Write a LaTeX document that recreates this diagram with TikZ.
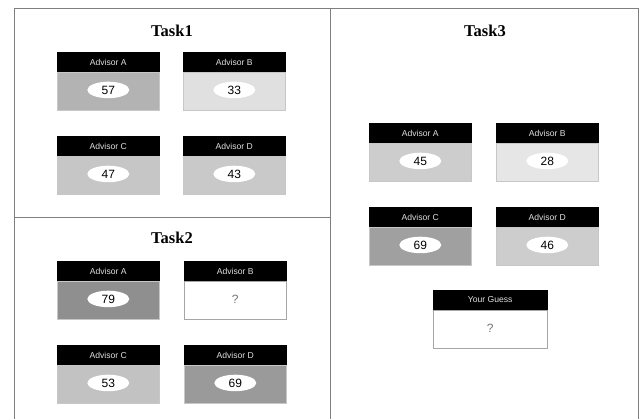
\documentclass[tikz,border=0pt]{standalone}
\usepackage{fontspec}
\setmainfont{Liberation Serif}
\setsansfont{Liberation Sans}
\usetikzlibrary{shapes.geometric}
\definecolor{gA}{HTML}{B3B3B3}
\definecolor{gB}{HTML}{E0E0E0}
\definecolor{gC}{HTML}{C6C6C6}
\definecolor{gD}{HTML}{C9C9C9}
\definecolor{hA}{HTML}{8F8F8F}
\definecolor{hC}{HTML}{C2C2C2}
\definecolor{hD}{HTML}{9A9A9A}
\definecolor{kA}{HTML}{CDCDCD}
\definecolor{kB}{HTML}{E6E6E6}
\definecolor{kC}{HTML}{A0A0A0}
\definecolor{kD}{HTML}{CDCDCD}
\definecolor{framecol}{HTML}{7F7F7F}
\tikzset{
 frame/.style={draw=framecol, line width=1pt},
 hdr/.style={fill=black, draw=black, text=white!88!black, font=\sffamily\fontsize{8.6}{9}\selectfont, minimum width=102pt, minimum height=19.5pt, anchor=north west, inner sep=0pt},
 body/.style={draw=black!22, line width=0.6pt, minimum width=102pt, minimum height=38.5pt, anchor=north west, inner sep=0pt},
 val/.style={ellipse, fill=white, minimum width=42pt, minimum height=16.5pt, inner sep=0pt, font=\sffamily\fontsize{12}{12}\selectfont},
 qmark/.style={font=\sffamily\fontsize{12}{12}\selectfont, text=black!55},
 title/.style={font=\bfseries\fontsize{16.5}{17}\selectfont}
}
\newcommand\advbox[6]{%
  \node[hdr] (#1h) at (#2,#3) {#4};
  \node[body, fill=#5] (#1b) at (#1h.south west) {};
  \node[val] (#1v) at ([yshift=1.5pt]#1b.center) {#6};
}
\newcommand\qbox[4]{%
  \node[hdr] (#1h) at (#2,#3) {#4};
  \node[body, fill=white, draw=black!35] (#1b) at (#1h.south west) {};
  \node[qmark] (#1v) at ([yshift=1.5pt]#1b.center) {?};
}
\begin{document}
\begin{tikzpicture}[x=1pt,y=-1pt]
\useasboundingbox (0,0) rectangle (639,419);
\fill[white] (0,0) rectangle (639,419);
% frame
\draw[frame] (14,419) -- (14,9) -- (638,9) -- (638,419);
\draw[frame] (330,9) -- (330,419);
\draw[frame] (14,217.5) -- (330,217.5);
% Task1
\node[title] (t1) at (172,31) {Task1};
\advbox{oa}{57}{52}{Advisor A}{gA}{57}
\advbox{ob}{183}{52}{Advisor B}{gB}{33}
\advbox{oc}{57}{136}{Advisor C}{gC}{47}
\advbox{od}{183}{136}{Advisor D}{gD}{43}
% Task2
\node[title] (t2) at (172,238) {Task2};
\advbox{wa}{57}{261}{Advisor A}{hA}{79}
\qbox{wb}{184}{261}{Advisor B}
\advbox{wc}{57}{345}{Advisor C}{hC}{53}
\advbox{wd}{184}{345}{Advisor D}{hD}{69}
% Task3
\node[title] (t3) at (485,31) {Task3};
\advbox{ra}{369}{123}{Advisor A}{kA}{45}
\advbox{rb}{496}{123}{Advisor B}{kB}{28}
\advbox{rc}{369}{207}{Advisor C}{kC}{69}
\advbox{rd}{496}{207}{Advisor D}{kD}{46}
\begin{scope}
\tikzset{hdr/.append style={minimum width=114pt}, body/.append style={minimum width=114pt}}
\qbox{yg}{433}{290}{Your Guess}
\end{scope}
\end{tikzpicture}
\end{document}
